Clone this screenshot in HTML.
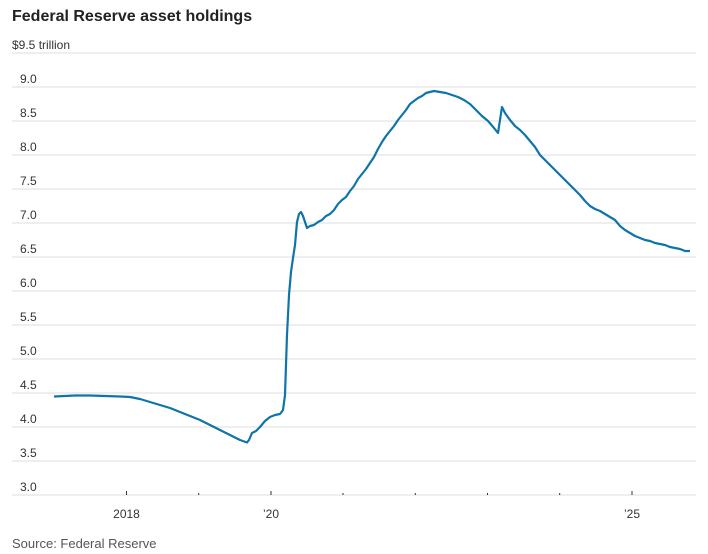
<!DOCTYPE html>
<html><head><meta charset="utf-8"><style>
html,body{margin:0;padding:0;background:#fff;width:708px;height:554px;overflow:hidden}
</style></head><body>
<svg width="708" height="554" xmlns="http://www.w3.org/2000/svg" font-family="Liberation Sans, sans-serif">
<text x="12" y="21" font-size="16" font-weight="bold" fill="#222">Federal Reserve asset holdings</text>
<g stroke="#e3e3e3" stroke-width="1.3">
<line x1="12" x2="696" y1="53" y2="53"/><line x1="12" x2="696" y1="87" y2="87"/><line x1="12" x2="696" y1="121" y2="121"/><line x1="12" x2="696" y1="155" y2="155"/><line x1="12" x2="696" y1="189" y2="189"/><line x1="12" x2="696" y1="223" y2="223"/><line x1="12" x2="696" y1="257" y2="257"/><line x1="12" x2="696" y1="291" y2="291"/><line x1="12" x2="696" y1="325" y2="325"/><line x1="12" x2="696" y1="359" y2="359"/><line x1="12" x2="696" y1="393" y2="393"/><line x1="12" x2="696" y1="427" y2="427"/><line x1="12" x2="696" y1="461" y2="461"/><line x1="12" x2="696" y1="495" y2="495"/>
</g>
<g font-size="12" fill="#333">
<text x="12" y="49">$9.5 trillion</text>
<text x="20" y="83">9.0</text><text x="20" y="117">8.5</text><text x="20" y="151">8.0</text><text x="20" y="185">7.5</text><text x="20" y="219">7.0</text><text x="20" y="253">6.5</text><text x="20" y="287">6.0</text><text x="20" y="321">5.5</text><text x="20" y="355">5.0</text><text x="20" y="389">4.5</text><text x="20" y="423">4.0</text><text x="20" y="457">3.5</text><text x="20" y="491">3.0</text>
<text x="126.5" y="518" text-anchor="middle">2018</text>
<text x="271" y="518" text-anchor="middle">’20</text>
<text x="632" y="518" text-anchor="middle">’25</text>
<text x="12" y="548" font-size="13" fill="#555">Source: Federal Reserve</text>
</g>
<g stroke="#333" stroke-width="1">
<line x1="126.5" x2="126.5" y1="491" y2="495"/><line x1="198.7" x2="198.7" y1="493" y2="495"/><line x1="271" x2="271" y1="491" y2="495"/><line x1="343" x2="343" y1="493" y2="495"/><line x1="415.3" x2="415.3" y1="493" y2="495"/><line x1="487.5" x2="487.5" y1="493" y2="495"/><line x1="559.7" x2="559.7" y1="493" y2="495"/><line x1="632" x2="632" y1="491" y2="495"/>
</g>
<polyline fill="none" stroke="#0f74a8" stroke-width="2.2" stroke-linejoin="round" points="
54,396.5 65,396 75,395.5 90,395.5 105,396 120,396.5 130,397 140,399 150,402 160,405 170,408 180,412 190,416 200,420 210,425 220,430 230,435 240,440 247,442.5 249,440 252,433 256,431 260,427 265,421 270,417 275,415 280,414 283,410 285,395 287,335 289,295 291,272 293,258 295,245 297,222 299,214 301,212 303,216 305,222 307,228 310,226 314,225 318,222 322,220 326,216 330,214 334,210 338,204 342,200 346,197 350,191 354,186 358,179 362,174 366,169 370,163 374,157 378,149 382,142 386,136 390,131 394,126 398,120 402,115 406,110 410,104 414,101 418,98 422,96 426,93 430,92 434,91 440,92 446,93 452,95 458,97 464,100 470,104 476,110 482,116 488,121 494,128 498,133 500,120 502,107 505,113 510,120 515,126 520,130 525,135 530,141 535,147 540,155 545,160 550,165 555,170 560,175 565,180 570,185 575,190 580,195 585,201 590,206 595,209 600,211 605,214 610,217 615,220 620,226 625,230 630,233 635,236 640,238 645,240 650,241 655,243 660,244 665,245 670,247 675,248 680,249 685,251 690,251"/>
</svg>
</body></html>
